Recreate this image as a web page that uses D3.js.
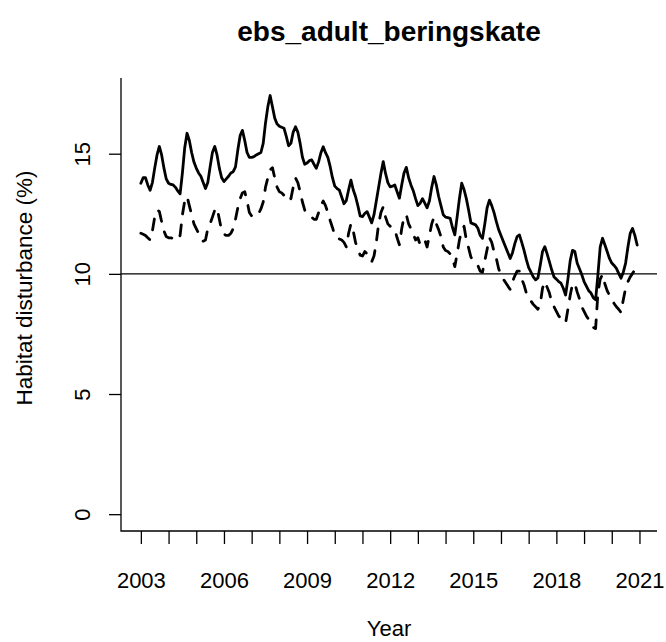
<!DOCTYPE html>
<html>
<head>
<meta charset="utf-8">
<script src="https://cdn.jsdelivr.net/npm/d3@7/dist/d3.min.js"></script>
<style>
  body { margin: 0; background: #ffffff; }
  svg { display: block; }
  text { font-family: "Liberation Sans", Arial, Helvetica, sans-serif; fill: #000; }
</style>
</head>
<body>
<svg id="chart" width="666" height="642"></svg>
<script>
// Monthly habitat disturbance (%), January 2003 to December 2020
const chartTitle = "ebs_adult_beringskate";
const xTitle = "Year";
const yTitle = "Habitat disturbance (%)";
const firstYear = 2003;

// upper estimate (solid line), one row per year
const upperSeries = [
  13.77, 14.0, 14.0, 13.7, 13.48, 13.8, 14.4, 14.95, 15.3, 14.95, 14.4, 13.95,
  13.77, 13.72, 13.7, 13.6, 13.45, 13.33, 14.2, 15.25, 15.85, 15.55, 15.05, 14.65,
  14.4, 14.2, 14.06, 13.8, 13.55, 13.8, 14.45, 15.05, 15.3, 14.95, 14.4, 14.0,
  13.84, 13.95, 14.06, 14.2, 14.25, 14.45, 15.15, 15.75, 15.97, 15.55, 15.05, 14.85,
  14.85, 14.88, 14.95, 15.0, 15.05, 15.43, 16.28, 16.95, 17.42, 16.95, 16.48, 16.24,
  16.14, 16.1, 16.06, 15.72, 15.33, 15.43, 15.9, 16.12, 15.9, 15.43, 14.85, 14.56,
  14.61, 14.71, 14.74, 14.56, 14.39, 14.66, 15.04, 15.29, 15.04, 14.85, 14.47, 14.0,
  13.65, 13.55, 13.48, 13.2, 12.92, 13.05, 13.5, 13.9, 13.5, 13.22, 12.84, 12.41,
  12.38, 12.51, 12.59, 12.36, 12.12, 12.46, 13.03, 13.6, 14.18, 14.67, 14.18, 13.8,
  13.62, 13.65, 13.7, 13.42, 13.15, 13.7, 14.2, 14.43, 14.0, 13.7, 13.46, 13.13,
  12.84, 12.94, 13.13, 12.94, 12.75, 13.03, 13.6, 14.05, 13.7, 13.22, 12.84, 12.46,
  12.36, 12.34, 12.31, 11.93, 11.62, 12.36, 13.13, 13.77, 13.51, 13.13, 12.65, 12.12,
  12.08, 12.04, 11.9, 11.6, 11.48, 12.08, 12.75, 13.07, 12.84, 12.55, 12.17, 11.84,
  11.6, 11.36, 11.12, 10.88, 10.64, 10.88, 11.26, 11.55, 11.62, 11.31, 10.98, 10.59,
  10.26, 10.07, 9.87, 9.75, 9.83, 10.35, 10.93, 11.13, 10.83, 10.5, 10.16, 9.87,
  9.78, 9.68, 9.61, 9.4, 9.12, 9.78, 10.55, 10.98, 10.93, 10.45, 10.21, 9.97,
  9.68, 9.49, 9.3, 9.2, 9.01, 8.92, 9.97, 11.12, 11.48, 11.21, 10.93, 10.64,
  10.45, 10.35, 10.23, 10.02, 9.82, 10.07, 10.45, 11.12, 11.69, 11.89, 11.6, 11.2
];

// lower estimate (dashed line), one row per year
const lowerSeries = [
  11.69, 11.65, 11.6, 11.5, 11.41, 11.79, 12.36, 12.65, 12.6, 12.17, 11.79, 11.55,
  11.5, 11.5, 11.48, 11.45, 11.41, 11.6, 12.46, 13.03, 13.22, 12.84, 12.46, 12.08,
  11.88, 11.69, 11.5, 11.36, 11.41, 11.88, 12.08, 12.36, 12.65, 12.75, 12.27, 11.79,
  11.65, 11.6, 11.6, 11.69, 11.88, 12.27, 12.75, 13.13, 13.37, 13.42, 13.03, 12.55,
  12.41, 12.36, 12.41, 12.51, 12.7, 12.99, 13.61, 13.99, 14.32, 14.42, 13.99, 13.61,
  13.42, 13.37, 13.27, 13.13, 13.03, 13.13, 13.61, 13.99, 13.8, 13.42, 12.99, 12.65,
  12.55, 12.46, 12.36, 12.27, 12.27, 12.55, 12.84, 13.03, 12.84, 12.55, 12.22, 11.93,
  11.6, 11.5, 11.45, 11.41, 11.31, 11.12, 11.69, 12.08, 11.79, 11.31, 11.02, 10.78,
  10.74, 10.93, 10.83, 10.64, 10.5, 10.74, 11.31, 12.08, 12.55, 12.79, 12.36, 12.08,
  11.98, 11.88, 11.84, 11.5, 11.21, 11.88, 12.36, 12.46, 12.08, 11.88, 11.65, 11.41,
  11.5, 11.21, 11.31, 11.41, 11.12, 11.6, 12.08, 12.36, 12.08, 11.84, 11.55, 11.12,
  10.97, 10.93, 10.83, 10.64, 10.3, 10.83, 11.41, 11.79, 11.98, 11.41, 11.07, 10.69,
  10.59, 10.5, 10.35, 10.11, 10.07, 10.55, 11.02, 11.5, 11.31, 10.93, 10.64, 10.21,
  9.97, 9.78, 9.64, 9.49, 9.35, 9.68, 9.92, 10.11, 10.11, 9.78, 9.54, 9.2,
  9.06, 8.87, 8.73, 8.63, 8.53, 8.73, 9.4, 9.68, 9.44, 9.2, 8.82, 8.63,
  8.44, 8.25, 8.15, 8.06, 7.96, 8.53, 9.11, 9.59, 9.59, 9.25, 8.97, 8.63,
  8.44, 8.25, 8.1, 7.96, 7.77, 7.72, 9.2, 9.78, 9.97, 9.59, 9.3, 9.11,
  8.92, 8.77, 8.63, 8.53, 8.39, 8.92, 9.4, 9.68, 9.87, 10.02, 10.16, 10.07
];

const yearTicks = [2003, 2004, 2005, 2006, 2007, 2008, 2009, 2010, 2011, 2012,
                   2013, 2014, 2015, 2016, 2017, 2018, 2019, 2020, 2021];
const yearLabels = [2003, 2006, 2009, 2012, 2015, 2018, 2021];
const valueTicks = [0, 5, 10, 15];
const referenceLevel = 10;

const svg = d3.select("#chart");
const plot = { left: 121, right: 657, top: 78, bottom: 531 };

const x = d3.scaleLinear().domain([2002.283, 2021.633]).range([plot.left, plot.right]);
const y = d3.scaleLinear().domain([-0.70, 18.15]).range([plot.bottom, plot.top]);

const monthX = i => x(firstYear + i / 12);

// title
svg.append("text")
  .attr("x", (plot.left + plot.right) / 2).attr("y", 41)
  .attr("text-anchor", "middle")
  .style("font-size", "28px").style("font-weight", "bold")
  .text(chartTitle);

// reference line
svg.append("line")
  .attr("x1", plot.left).attr("x2", plot.right)
  .attr("y1", y(referenceLevel)).attr("y2", y(referenceLevel))
  .attr("stroke", "#000").attr("stroke-width", 1.3);

// series
const line = d3.line().x((d, i) => monthX(i)).y(d => y(d));

svg.append("path").datum(upperSeries)
  .attr("d", line).attr("fill", "none").attr("stroke", "#000")
  .attr("stroke-width", 2.8).attr("stroke-linejoin", "round").attr("stroke-linecap", "round");

svg.append("path").datum(lowerSeries)
  .attr("d", line).attr("fill", "none").attr("stroke", "#000")
  .attr("stroke-width", 2.8).attr("stroke-linejoin", "round").attr("stroke-linecap", "round")
  .attr("stroke-dasharray", "11,11");

// axes
const xAxis = d3.axisBottom(x).tickValues(yearTicks).tickSize(13)
  .tickFormat(d => yearLabels.includes(d) ? String(d) : "");
const gx = svg.append("g").attr("transform", `translate(0,${plot.bottom})`).call(xAxis);
gx.select(".domain").remove();
gx.selectAll(".tick line").attr("stroke", "#000").attr("stroke-width", 1.3);
gx.selectAll(".tick text").attr("dy", null).attr("y", 57)
  .style("font-size", "22px").attr("fill", "#000");

const yAxis = d3.axisLeft(y).tickValues(valueTicks).tickSize(12).tickFormat(d3.format("d"));
const gy = svg.append("g").attr("transform", `translate(${plot.left},0)`).call(yAxis);
gy.select(".domain").remove();
gy.selectAll(".tick line").attr("stroke", "#000").attr("stroke-width", 1.3);
gy.selectAll(".tick text").attr("x", null).attr("dy", null)
  .attr("text-anchor", "middle")
  .attr("transform", "translate(-31,0) rotate(-90)")
  .style("font-size", "22px").attr("fill", "#000");

// L-shaped frame
svg.append("path")
  .attr("d", `M${plot.left},${plot.top}V${plot.bottom}H${plot.right}`)
  .attr("fill", "none").attr("stroke", "#000").attr("stroke-width", 1.3);

// axis titles
svg.append("text")
  .attr("x", (plot.left + plot.right) / 2).attr("y", 636)
  .attr("text-anchor", "middle").style("font-size", "22px")
  .text(xTitle);

svg.append("text")
  .attr("transform", "translate(31.5,288) rotate(-90)")
  .attr("text-anchor", "middle").style("font-size", "22.5px")
  .text(yTitle);
</script>
</body>
</html>
